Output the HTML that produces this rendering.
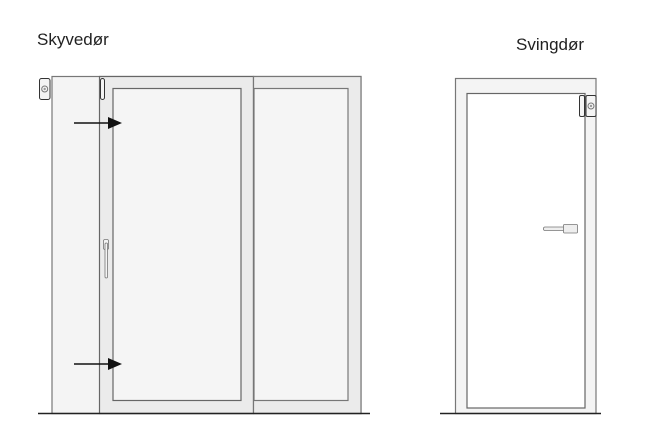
<!DOCTYPE html>
<html><head><style>
html,body{margin:0;padding:0;background:#fff;}
svg{display:block}
</style></head><body>
<svg width="650" height="448" viewBox="0 0 650 448" xmlns="http://www.w3.org/2000/svg">
<text x="37" y="45" font-family="Liberation Sans, sans-serif" font-size="17" fill="#222">Skyvedør</text>
<text x="516" y="50" font-family="Liberation Sans, sans-serif" font-size="17" fill="#222">Svingdør</text>
<!-- left sliding structure -->
<rect x="52" y="76.5" width="309" height="337" fill="#f4f4f4" stroke="#777" stroke-width="1.2"/>
<rect x="99.5" y="76.5" width="154" height="337" fill="#ebebeb" stroke="#666" stroke-width="1.2"/>
<rect x="253.5" y="76.5" width="107.5" height="337" fill="#ebebeb" stroke="#777" stroke-width="1.2"/>
<rect x="113" y="88.5" width="128" height="312" fill="#f5f5f5" stroke="#666" stroke-width="1.2"/>
<rect x="254" y="88.5" width="94" height="312" fill="#f5f5f5" stroke="#777" stroke-width="1.2"/>
<!-- sensors -->
<rect x="39.5" y="78.5" width="10.5" height="21" rx="2" fill="#f4f4f4" stroke="#333" stroke-width="1"/>
<circle cx="44.7" cy="89" r="3" fill="none" stroke="#777" stroke-width="1"/>
<circle cx="44.7" cy="89" r="1.2" fill="#999"/>
<rect x="100.5" y="78.5" width="4" height="21" rx="2" fill="#f4f4f4" stroke="#333" stroke-width="1"/>
<!-- handle -->
<rect x="103.5" y="239.5" width="5" height="10" rx="1.5" fill="#f4f4f4" stroke="#777" stroke-width="0.8"/>
<rect x="105" y="243" width="2.5" height="35" rx="1.2" fill="#f4f4f4" stroke="#777" stroke-width="0.8"/>
<!-- arrows -->
<line x1="74" y1="123" x2="110" y2="123" stroke="#111" stroke-width="1.5"/>
<polygon points="108,117 122,123 108,129" fill="#111"/>
<line x1="74" y1="364" x2="110" y2="364" stroke="#111" stroke-width="1.5"/>
<polygon points="108,358 122,364 108,370" fill="#111"/>
<line x1="38" y1="413.5" x2="370" y2="413.5" stroke="#222" stroke-width="1.5"/>
<!-- right swing door -->
<rect x="455.5" y="78.5" width="140.5" height="335" fill="#f4f4f4" stroke="#777" stroke-width="1.2"/>
<rect x="467" y="93.5" width="118" height="314.5" fill="#fff" stroke="#666" stroke-width="1.2"/>
<rect x="579.5" y="95.5" width="5" height="21" rx="1.5" fill="#f4f4f4" stroke="#333" stroke-width="1"/>
<rect x="586" y="95.5" width="10" height="21" rx="1.5" fill="#f4f4f4" stroke="#333" stroke-width="1"/>
<circle cx="591" cy="106" r="3" fill="none" stroke="#777" stroke-width="1"/>
<circle cx="591" cy="106" r="1.2" fill="#999"/>
<rect x="543.5" y="227" width="21" height="3.5" rx="1.5" fill="#eee" stroke="#777" stroke-width="0.8"/>
<rect x="563.5" y="224.5" width="14" height="8.5" rx="1" fill="#eee" stroke="#777" stroke-width="0.8"/>
<line x1="440" y1="413.5" x2="601" y2="413.5" stroke="#222" stroke-width="1.5"/>
</svg>
</body></html>
